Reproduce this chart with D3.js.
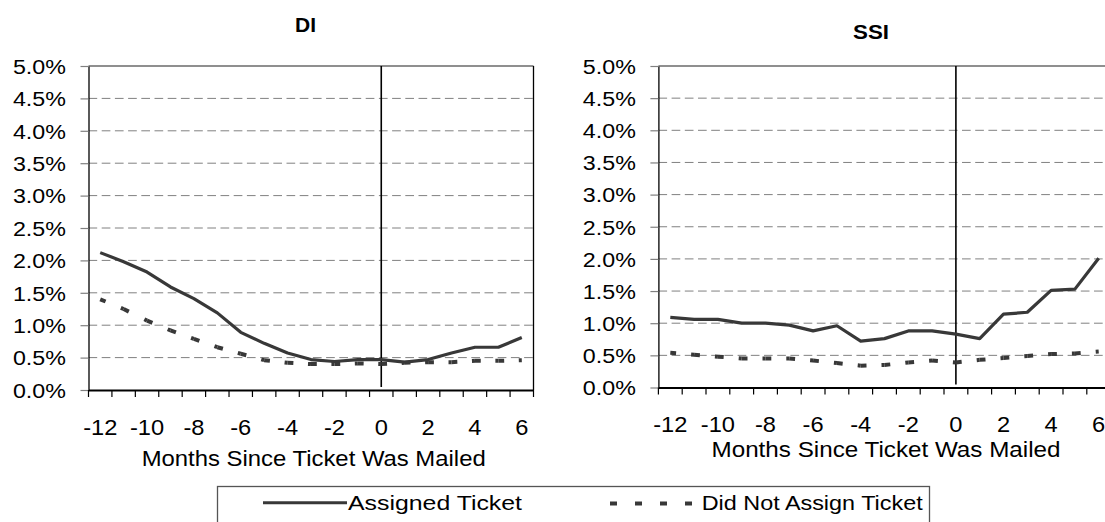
<!DOCTYPE html>
<html><head><meta charset="utf-8">
<script src="https://cdn.jsdelivr.net/npm/d3@7"></script>
<style>
body{margin:0;background:#fff}
svg{display:block}
text{font-family:"Liberation Sans",Arial,Helvetica,sans-serif;fill:#000}
</style>
</head><body>
<svg id="c" width="1105" height="522"></svg>
<script>
// ---- data ----
const months = [-12,-11,-10,-9,-8,-7,-6,-5,-4,-3,-2,-1,0,1,2,3,4,5,6];
const xTickLabels = ["-12","-10","-8","-6","-4","-2","0","2","4","6"];
const yTicks = [0,0.5,1,1.5,2,2.5,3,3.5,4,4.5,5];
const diAssigned    = [2.12,1.98,1.82,1.59,1.41,1.19,0.89,0.72,0.57,0.47,0.44,0.47,0.47,0.43,0.47,0.57,0.66,0.66,0.81];
const diNotAssigned = [1.40,1.25,1.07,0.92,0.79,0.66,0.56,0.46,0.42,0.40,0.40,0.41,0.40,0.42,0.43,0.43,0.45,0.45,0.46];
const ssiAssigned    = [1.09,1.06,1.06,1.00,1.00,0.97,0.88,0.96,0.72,0.76,0.88,0.88,0.83,0.76,1.14,1.17,1.51,1.53,2.01];
const ssiNotAssigned = [0.54,0.51,0.48,0.45,0.45,0.45,0.42,0.38,0.34,0.35,0.39,0.42,0.39,0.43,0.46,0.49,0.52,0.53,0.56];
const panelTitles = ["DI","SSI"];
const xTitle = "Months Since Ticket Was Mailed";
const legendLabels = ["Assigned Ticket","Did Not Assign Ticket"];

const svg = d3.select("#c");
const LINE = "#383838";
const GRID = "#808080";

function stretch(sel, f){
  sel.attr("lengthAdjust","spacingAndGlyphs")
     .attr("textLength", function(){ return this.getComputedTextLength()*f; });
}

function panel(cfg){
  const x = d3.scaleBand().domain(months).range([cfg.x0, cfg.x1]);
  const y = d3.scaleLinear().domain([0,5]).range([cfg.yBot, cfg.yTop]);
  const g = svg.append("g");
  const cx = m => x(m) + x.bandwidth()/2;

  // gridlines
  g.selectAll("line.grid").data(yTicks.filter(v=>v>0)).join("line")
    .attr("x1", cfg.x0).attr("x2", cfg.x1)
    .attr("y1", d=>y(d)).attr("y2", d=>y(d))
    .attr("stroke", d=> d===5 ? "#6a6a6a" : GRID)
    .attr("stroke-width", d=> d===5 ? 1.4 : 1)
    .attr("stroke-dasharray", d=> d===5 ? null : "8.7,4.5");

  // right border
  g.append("line").attr("x1",cfg.x1).attr("x2",cfg.x1).attr("y1",cfg.yTop).attr("y2",cfg.yBot)
    .attr("stroke","#000").attr("stroke-width",1.3);

  // y axis
  const ya = g.append("g").attr("transform",`translate(${cfg.x0},0)`)
    .call(d3.axisLeft(y).tickValues(yTicks).tickSize(8).tickSizeOuter(0)
      .tickFormat(d=>d.toFixed(1)+"%"));
  ya.select(".domain").attr("stroke","#000").attr("stroke-width",1.3);
  ya.selectAll(".tick line").attr("stroke",GRID).attr("stroke-width",1.2);
  ya.selectAll(".tick text").attr("x",-22.6).attr("dy","0.36em")
    .style("font-size","20.5px").attr("font-family",null)
    .attr("textLength",53).attr("lengthAdjust","spacingAndGlyphs");

  // x axis
  const xa = g.append("g").attr("transform",`translate(0,${cfg.yBot})`)
    .call(d3.axisBottom(x).tickSize(0).tickSizeOuter(0)
      .tickFormat(d=> xTickLabels.includes(String(d)) ? String(d) : ""));
  xa.select(".domain").attr("stroke","#000").attr("stroke-width",2);
  xa.selectAll(".tick text").attr("y", cfg.xLabY).attr("dy",0)
    .style("font-size","21.5px").attr("font-family",null)
    .each(function(){ if(this.textContent) stretch(d3.select(this),1.1); });
  // boundary ticks
  const bounds = months.map(m=>x(m)).concat([cfg.x1]);
  g.selectAll("line.bt").data(bounds).join("line")
    .attr("x1",d=>d).attr("x2",d=>d).attr("y1",cfg.yBot).attr("y2",cfg.yBot+7)
    .attr("stroke","#000").attr("stroke-width",1.2);

  // vertical line at month 0
  g.append("line").attr("x1",cx(0)).attr("x2",cx(0)).attr("y1",cfg.yTop).attr("y2",cfg.yBot-3)
    .attr("stroke","#000").attr("stroke-width",1.6);

  // dashed series, drawn segment by segment
  const pts = cfg.notAssigned.map((v,i)=>[cx(months[i]), y(v)]);
  for(let i=0;i<pts.length-1;i++){
    const [ax,ay]=pts[i],[bx,by]=pts[i+1];
    const len=Math.hypot(bx-ax,by-ay);
    const a=5.8,b=3;
    g.append("path").attr("d",d3.line()([pts[i],pts[i+1]]))
      .attr("fill","none").attr("stroke",LINE).attr("stroke-width",4)
      .attr("stroke-dasharray",`${a} ${len-a-b} ${b} 1000`);
  }
  // solid series
  g.append("path").datum(cfg.assigned)
    .attr("d", d3.line().x((d,i)=>cx(months[i])).y(d=>y(d)))
    .attr("fill","none").attr("stroke",LINE).attr("stroke-width",3.2)
    .attr("stroke-linejoin","round");

  // title
  const t = g.append("text").attr("x",cfg.titleX).attr("y",cfg.titleY)
    .attr("text-anchor","middle").style("font-size","19.5px").style("font-weight","bold")
    .text(cfg.title);
  t.attr("textLength",cfg.titleW).attr("lengthAdjust","spacingAndGlyphs");
  // axis title
  g.append("text").attr("x",cfg.xtX).attr("y",cfg.xtY).attr("text-anchor","middle")
    .style("font-size","21.5px").text(xTitle)
    .attr("textLength",cfg.xtW).attr("lengthAdjust","spacingAndGlyphs");
}

panel({x0:88.5,x1:533.5,yTop:66,yBot:390,xLabY:44.5,assigned:diAssigned,notAssigned:diNotAssigned,
  title:panelTitles[0],titleX:305.5,titleY:32,titleW:21,xtX:313.7,xtY:465.5,xtW:344});
panel({x0:658.4,x1:1110.6,yTop:66,yBot:387.5,xLabY:44.5,assigned:ssiAssigned,notAssigned:ssiNotAssigned,
  title:panelTitles[1],titleX:871,titleY:38.5,titleW:36,xtX:886,xtY:456.5,xtW:349});

// legend
const lg = svg.append("g");
lg.append("rect").attr("x",217.5).attr("y",486.5).attr("width",712).attr("height",60)
  .attr("fill","#fff").attr("stroke","#555").attr("stroke-width",1.3);
lg.append("line").attr("x1",263).attr("x2",347).attr("y1",502.7).attr("y2",502.7)
  .attr("stroke",LINE).attr("stroke-width",3);
lg.append("text").attr("x",348).attr("y",509.5).style("font-size","20.5px").text(legendLabels[0])
  .attr("textLength",174).attr("lengthAdjust","spacingAndGlyphs");
lg.append("line").attr("x1",610).attr("x2",693).attr("y1",503.5).attr("y2",503.5)
  .attr("stroke",LINE).attr("stroke-width",4).attr("stroke-dasharray","7 18");
lg.append("text").attr("x",701.7).attr("y",509.5).style("font-size","20.5px").text(legendLabels[1])
  .attr("textLength",221).attr("lengthAdjust","spacingAndGlyphs");
</script>
</body></html>
